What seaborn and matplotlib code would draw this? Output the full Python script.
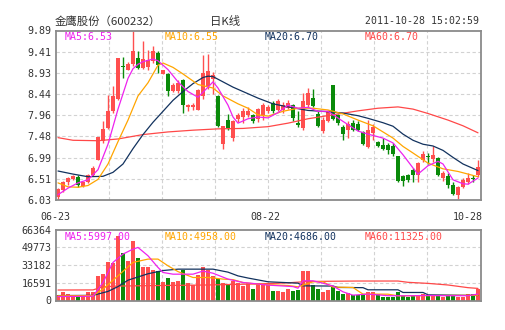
import numpy as np
import matplotlib
matplotlib.use("Agg")
import matplotlib.pyplot as plt
import matplotlib.transforms as mtransforms
import seaborn as sns

# ---------------- data ----------------
title_name = "金鹰股份（600232）"
title_mid = "日K线"
title_time = "2011-10-28 15:02:59"
date_labels = ["06-23", "08-22", "10-28"]
price_ticks = ["9.89", "9.41", "8.93", "8.44", "7.96", "7.48", "6.99", "6.51", "6.03"]
vol_ticks = ["66364", "49773", "33182", "16591", "0"]
price_legend = ["MA5:6.53", "MA10:6.55", "MA20:6.70", "MA60:6.70"]
vol_legend = ["MA5:5997.00", "MA10:4958.00", "MA20:4686.00", "MA60:11325.00"]

opens = [6.09, 6.25, 6.44, 6.51, 6.55, 6.35, 6.44, 6.59, 6.95, 7.37,
         7.66, 8.05, 8.33, 9.09, 9.00, 9.12, 9.27, 9.04, 9.05, 9.19,
         9.38, 8.91, 8.90, 8.52, 8.52, 8.77, 8.15, 8.14, 8.09, 8.40,
         8.62, 8.78, 8.40, 7.30, 7.86, 7.44, 7.88, 7.91, 7.96, 7.96,
         7.88, 7.96, 8.05, 8.24, 8.09, 8.09, 8.13, 8.19, 7.79, 7.67,
         8.19, 8.35, 7.99, 7.60, 7.84, 8.66, 7.96, 7.69, 7.63, 7.78,
         7.76, 7.58, 7.23, 7.55, 7.35, 7.29, 7.29, 7.25, 7.03, 6.57,
         6.60, 6.72, 6.61, 6.95, 7.04, 6.97, 6.99, 6.53, 6.57, 6.37,
         6.14, 6.32, 6.44, 6.53, 6.61]
highs = [6.30, 6.47, 6.55, 6.60, 6.60, 6.45, 6.62, 6.80, 7.47, 7.82,
         8.43, 8.62, 9.27, 9.28, 9.18, 9.89, 9.42, 9.64, 9.45, 9.53,
         9.42, 8.99, 8.92, 8.70, 8.77, 8.79, 8.22, 8.24, 8.56, 9.33,
         9.35, 8.95, 8.43, 7.72, 7.99, 7.86, 8.00, 8.13, 8.15, 7.99,
         8.13, 8.24, 8.20, 8.29, 8.32, 8.26, 8.31, 8.22, 8.05, 8.47,
         8.58, 8.56, 8.05, 7.91, 8.08, 8.66, 7.99, 7.73, 7.82, 7.86,
         7.84, 7.60, 7.86, 7.76, 7.38, 7.44, 7.33, 7.33, 7.03, 6.60,
         6.62, 6.77, 6.90, 7.14, 7.10, 7.25, 7.01, 6.69, 6.65, 6.44,
         6.34, 6.53, 6.65, 6.59, 6.93]
lows = [6.02, 6.22, 6.38, 6.48, 6.33, 6.33, 6.42, 6.57, 6.93, 7.33,
        7.64, 8.00, 8.30, 8.81, 8.98, 9.08, 9.02, 9.02, 9.00, 9.15,
        8.92, 8.90, 8.39, 8.49, 8.47, 8.01, 8.05, 8.09, 8.08, 8.33,
        8.55, 8.45, 7.70, 7.20, 7.63, 7.37, 7.80, 7.78, 7.93, 7.79,
        7.80, 7.86, 8.00, 8.00, 8.05, 8.02, 8.10, 7.82, 7.70, 7.63,
        8.14, 8.14, 7.70, 7.56, 7.80, 7.86, 7.73, 7.40, 7.44, 7.59,
        7.59, 7.29, 7.22, 7.40, 7.23, 7.18, 7.08, 7.03, 6.44, 6.34,
        6.44, 6.44, 6.44, 6.90, 6.85, 6.90, 6.57, 6.47, 6.30, 6.15,
        6.06, 6.30, 6.40, 6.44, 6.55]
closes = [6.28, 6.44, 6.52, 6.58, 6.38, 6.43, 6.59, 6.76, 7.47, 7.65,
          8.05, 8.39, 9.26, 9.06, 9.13, 9.42, 9.04, 9.25, 9.22, 9.42,
          9.11, 8.98, 8.52, 8.66, 8.70, 8.19, 8.19, 8.20, 8.54, 8.92,
          8.96, 8.88, 7.72, 7.71, 7.67, 7.82, 7.96, 8.05, 8.05, 7.84,
          8.11, 8.19, 8.14, 8.05, 8.29, 8.20, 8.24, 7.90, 7.73, 8.28,
          8.47, 8.16, 7.71, 7.86, 8.03, 7.88, 7.78, 7.53, 7.76, 7.63,
          7.63, 7.31, 7.63, 7.69, 7.25, 7.20, 7.16, 7.08, 6.46, 6.47,
          6.49, 6.59, 6.87, 7.08, 7.01, 7.06, 6.61, 6.65, 6.37, 6.17,
          6.32, 6.49, 6.53, 6.51, 6.78]
volumes = [5300, 7500, 6500, 5300, 3700, 4400, 7500, 7500, 22500, 24600,
           35600, 34600, 60500, 44000, 36500, 55800, 39300, 31500, 30900, 28400,
           27600, 17500, 20600, 17500, 18000, 28400, 16200, 14400, 24000, 30900,
           28400, 23100, 20000, 16800, 15300, 17800, 16800, 13700, 16800, 10600,
           16800, 15500, 15300, 9000, 9000, 8100, 11200, 9000, 10000, 27800,
           27800, 14400, 11200, 8100, 9700, 13700, 9000, 5900, 6600, 5000,
           5000, 5000, 7500, 8400, 5900, 3700, 3700, 3700, 7500, 4400,
           3100, 4400, 5300, 5900, 4400, 4400, 5000, 3700, 4400, 4400,
           3700, 3700, 5900, 5900, 11200]

# price moving averages (bar index, value)
ma5_x = [0, 2, 4, 6, 8, 10, 12, 13, 14, 15, 16, 17, 19, 20, 22, 24, 26, 28, 30, 31,
         32, 34, 35, 36, 38, 40, 42, 44, 46, 48, 50, 52, 54, 57, 60, 62, 65, 67, 69, 71,
         72, 74, 76, 77, 79, 81, 82, 84]
ma5_y = [6.15, 6.30, 6.42, 6.49, 6.72, 7.30, 8.10, 8.45, 8.80, 9.02, 9.12, 9.18, 9.24, 9.20, 9.00, 8.72, 8.50, 8.37, 8.60, 8.72,
         8.58, 8.19, 7.92, 7.78, 7.88, 7.92, 7.90, 8.02, 8.19, 8.12, 8.14, 8.05, 8.05, 7.82, 7.60, 7.53, 7.44, 7.33, 7.06, 6.76,
         6.62, 6.81, 6.91, 6.85, 6.49, 6.40, 6.39, 6.53]
ma10_x = [0, 2, 4, 6, 8, 10, 12, 14, 16, 18, 20, 21, 23, 25, 28, 31, 33, 36, 38, 40,
          42, 45, 48, 51, 54, 57, 60, 63, 67, 69, 71, 74, 77, 80, 82, 84]
ma10_y = [6.42, 6.33, 6.32, 6.36, 6.50, 6.85, 7.36, 7.85, 8.40, 8.70, 9.10, 9.15, 9.05, 8.90, 8.66, 8.58, 8.40, 8.22, 8.12, 7.97,
          7.94, 8.05, 8.12, 8.12, 8.08, 7.99, 7.85, 7.72, 7.44, 7.25, 7.10, 6.87, 6.74, 6.68, 6.62, 6.56]
ma20_x = [0, 3, 6, 9, 11, 13, 15, 17, 19, 21, 23, 25, 27, 29, 30, 31, 33, 35, 37, 40,
          43, 46, 50, 54, 57, 60, 62, 65, 67, 69, 71, 73, 75, 77, 79, 81, 84]
ma20_y = [6.69, 6.62, 6.56, 6.57, 6.66, 6.85, 7.20, 7.52, 7.80, 8.05, 8.30, 8.50, 8.68, 8.82, 8.85, 8.84, 8.72, 8.60, 8.50, 8.35,
          8.22, 8.15, 8.07, 8.04, 8.01, 7.95, 7.89, 7.79, 7.71, 7.53, 7.39, 7.30, 7.26, 7.16, 7.00, 6.85, 6.70]
ma60_x = [0, 3, 8, 12, 17, 22, 27, 32, 37, 42, 46, 50, 55, 60, 64, 68, 71, 74, 78, 81, 84]
ma60_y = [7.45, 7.39, 7.38, 7.42, 7.52, 7.58, 7.62, 7.65, 7.66, 7.70, 7.78, 7.88, 7.97, 8.06, 8.12, 8.15, 8.10, 8.00, 7.85, 7.72, 7.56]

# volume moving averages
vma5_x = [0, 7, 9, 11, 13, 15, 16, 18, 20, 21, 23, 27, 29, 31, 34, 37, 39, 42, 47, 48,
          49, 51, 53, 55, 57, 59, 62, 66, 70, 74, 78, 82, 84]
vma5_y = [3700, 4000, 16800, 35600, 43400, 48000, 49600, 41800, 30900, 26200, 24600, 24600, 27500, 25500, 20000, 16800, 15900, 14400, 13000, 11500,
          18400, 18400, 16200, 13500, 8100, 5000, 6000, 4500, 4400, 4700, 4500, 4500, 6000]
vma10_x = [0, 7, 9, 12, 15, 18, 20, 22, 24, 27, 30, 33, 35, 37, 40, 44, 46, 48, 51, 53,
           55, 59, 60, 61, 66, 68, 84]
vma10_y = [4400, 4600, 10600, 23100, 35600, 38700, 38700, 32400, 27000, 21500, 21500, 20000, 19500, 16800, 15300, 14400, 14000, 12800, 17500, 17500,
           12500, 12200, 9000, 6000, 5900, 4400, 4900]
vma20_x = [0, 7, 10, 12, 14, 16, 18, 21, 24, 31, 34, 36, 38, 42, 48, 49, 55, 56, 61, 62,
           68, 69, 73, 74, 84]
vma20_y = [4600, 4800, 8500, 13000, 19000, 22000, 25000, 28000, 29300, 29300, 26500, 23000, 21000, 17500, 16200, 13700, 13500, 12200, 12000, 10000,
           10000, 7500, 7500, 5300, 4700]
vma60_x = [0, 7, 9, 12, 20, 30, 40, 46, 50, 60, 68, 70, 74, 78, 82, 84]
vma60_y = [9800, 9900, 12800, 13500, 14000, 14500, 15500, 16500, 17800, 18200, 18200, 17000, 16000, 14500, 12000, 11300]

# ---------------- style ----------------
sns.set_style("white")
plt.rcParams["font.family"] = ["DejaVu Sans Mono"]
cjk = ["Noto Sans CJK SC", "DejaVu Sans"]

UP = "#ff4f4f"
DOWN = "#0a8a0a"
C5, C10, C20, C60 = "#ee22ee", "#ffa500", "#12325e", "#ff4848"
GRID = "#d2d2d2"
BORDER = "#8a8a8a"
TXT = "#333333"

W, H = 505, 330
fig = plt.figure(figsize=(W / 100, H / 100), dpi=100)
fig.patch.set_facecolor("white")

L, R = 55.5, 480.5
ax = fig.add_axes([L / W, 1 - 200 / H, (R - L) / W, (200 - 30.5) / H])
axv = fig.add_axes([L / W, 1 - 300.5 / H, (R - L) / W, (300.5 - 229.5) / H])

n = len(closes)
idx = np.arange(n)
o, h, l, c = map(np.asarray, (opens, highs, lows, closes))
colors = [UP if cc >= oo else DOWN for oo, cc in zip(o, c)]

pmin, pmax = 6.03, 9.89
vmax = 66364

for a in (ax, axv):
    a.set_xlim(-0.5, n - 0.5)
    for s in a.spines.values():
        s.set_color(BORDER)
        s.set_linewidth(1.3)
        s.set_zorder(6)
    a.tick_params(length=0, pad=3, labelsize=7.2, labelcolor=TXT)
    a.set_xticks([])
    # vertical dashed grid (8 divisions)
    for k in range(1, 8):
        a.axvline(-0.5 + n * k / 8, color=GRID, lw=0.8, ls=(0, (3, 2.2)), zorder=0)

# price axis
ax.set_ylim(pmin, pmax)
pt = np.linspace(pmax, pmin, len(price_ticks))
ax.set_yticks(pt)
ax.set_yticklabels(price_ticks)
for y in pt[1:-1]:
    ax.axhline(y, color=GRID, lw=0.8, ls=(0, (3, 2.2)), zorder=0)

ax.vlines(idx, l, h, colors=colors, lw=1.0, zorder=2)
body = np.maximum(np.abs(c - o), 0.022)
ax.bar(idx, body, bottom=np.minimum(o, c), width=0.72, color=colors, lw=0, zorder=2)

for xs, ys, col in ((ma60_x, ma60_y, C60), (ma20_x, ma20_y, C20),
                    (ma10_x, ma10_y, C10), (ma5_x, ma5_y, C5)):
    sns.lineplot(x=np.asarray(xs), y=np.asarray(ys), ax=ax, color=col, lw=0.9, zorder=3)
ax.set_xlabel("")
ax.set_ylabel("")

# volume axis
axv.set_ylim(0, vmax)
vt = np.linspace(vmax, 0, len(vol_ticks))
axv.set_yticks(vt)
axv.set_yticklabels(vol_ticks)
for y in vt[1:-1]:
    axv.axhline(y, color=GRID, lw=0.8, ls=(0, (3, 2.2)), zorder=0)
axv.bar(idx, volumes, width=0.78, color=colors, lw=0, zorder=2)
for xs, ys, col in ((vma60_x, vma60_y, C60), (vma20_x, vma20_y, C20),
                    (vma10_x, vma10_y, C10), (vma5_x, vma5_y, C5)):
    sns.lineplot(x=np.asarray(xs), y=np.asarray(ys), ax=axv, color=col, lw=0.9, zorder=3)
axv.set_xlabel("")
axv.set_ylabel("")

# x date labels
def px(x, y):
    return x / W, 1 - y / H

fig.text(*px(55.5, 217), date_labels[0], ha="center", va="center", fontsize=7.2, color=TXT)
fig.text(*px(265, 217), date_labels[1], ha="center", va="center", fontsize=7.2, color=TXT)
fig.text(*px(483, 217), date_labels[2], ha="right", va="center", fontsize=7.2, color=TXT)

# legends
leg_x = [65, 165, 265, 365]
leg_c = [C5, C10, C20, C60]
for xx, t, col in zip(leg_x, price_legend, leg_c):
    fig.text(*px(xx, 37), t, ha="left", va="center", fontsize=7.1, color=col, zorder=7)
for xx, t, col in zip(leg_x, vol_legend, leg_c):
    fig.text(*px(xx, 237), t, ha="left", va="center", fontsize=7.1, color=col, zorder=7)

# titles
fig.text(*px(55, 21), title_name, ha="left", va="center", fontsize=8.2, color=TXT, family=cjk)
fig.text(*px(225, 21), title_mid, ha="center", va="center", fontsize=8.2, color=TXT, family=cjk)
fig.text(*px(479, 21), title_time, ha="right", va="center", fontsize=7.1, color=TXT)

fig.savefig("out.png", dpi=100, facecolor="white")
